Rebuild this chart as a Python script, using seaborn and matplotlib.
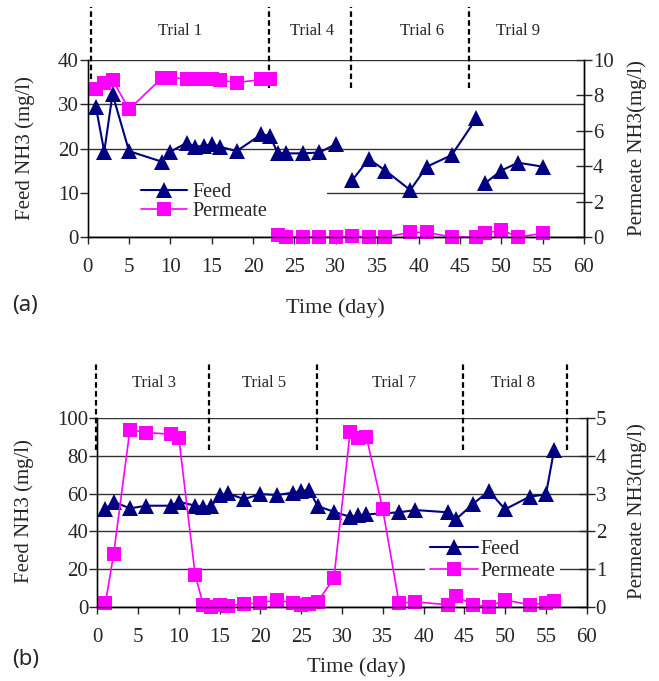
import numpy as np
import pandas as pd
import matplotlib
matplotlib.use("Agg")
import matplotlib.pyplot as plt
from matplotlib.lines import Line2D
from matplotlib.patches import Rectangle
import seaborn as sns

# ---- data ----
# panel (a)
feed_days_a = [1, 2, 3, 5, 9, 10, 12, 13, 14, 15, 16, 18, 21, 22, 23, 24, 26, 28, 30,
               32, 34, 36, 39, 41, 44, 47,
               48, 50, 52, 55]
feed_a = [29.3, 19.3, 32.3, 19.4, 17.0, 19.3, 21.3, 20.4, 20.6, 21.0, 20.4, 19.4, 23.2, 22.9,
          18.9, 18.9, 18.9, 19.1, 21.0,
          12.9, 17.6, 15.0, 10.6, 15.9, 18.5, 26.8,
          12.1, 15.0, 16.8, 15.9]
feed_seg_a = [0] * 19 + [1] * 7 + [2] * 4

perm_days_a = [1, 2, 3, 5, 9, 10, 12, 13, 14, 15, 16, 18, 21, 22,
               23, 24, 26, 28, 30, 32, 34, 36, 39, 41, 44, 47, 48, 50, 52, 55]
perm_a = [8.34, 8.68, 8.87, 7.21, 9.0, 9.0, 8.93, 8.93, 8.93, 8.9, 8.87, 8.72, 8.9, 8.9,
          0.1, 0.0, 0.0, 0.0, 0.0, 0.05, 0.0, 0.0, 0.26, 0.26, 0.0, 0.0, 0.2, 0.4, 0.0, 0.2]
perm_seg_a = [0] * 14 + [1] * 16

trial_lines_a = [0.4, 21.9, 31.8, 46.1]
trial_names_a = ["Trial 1", "Trial 4", "Trial 6", "Trial 9"]
trial_text_x_a = [11.2, 27.1, 40.4, 52.0]

# panel (b)
feed_days_b = [1, 2, 4, 6, 9, 10, 12, 13, 14, 15, 16, 18, 20, 22, 24, 25, 26, 27, 29, 31,
               32, 33, 37, 39, 43, 44, 46, 48, 50, 53, 55, 56]
feed_b = [51.7, 55.7, 52.2, 53.6, 53.6, 55.7, 53.6, 53.0, 53.4, 59.3, 60.1, 57.1, 59.8, 59.3,
          60.5, 61.4, 61.9, 53.4, 50.4, 47.7, 48.5, 49.0, 50.1, 51.3, 50.1, 46.5, 54.3, 61.4,
          51.7, 58.4, 59.6, 83.1]

perm_days_b = [1, 2, 4, 6, 9, 10, 12, 13, 14, 15, 16, 18, 20, 22, 24, 25, 26, 27, 29, 31,
               32, 33, 35, 37, 39, 43, 44, 46, 48, 50, 53, 55, 56]
perm_b = [0.1, 1.39, 4.7, 4.62, 4.58, 4.47, 0.84, 0.05, 0.0, 0.05, 0.03, 0.07, 0.1, 0.18,
          0.1, 0.05, 0.07, 0.13, 0.75, 4.64, 4.47, 4.5, 2.58, 0.09, 0.13, 0.05, 0.28, 0.05,
          0.0, 0.18, 0.05, 0.1, 0.15]

trial_lines_b = [-0.2, 13.7, 26.9, 44.8, 57.6]
trial_names_b = ["Trial 3", "Trial 5", "Trial 7", "Trial 8"]
trial_text_x_b = [6.9, 20.5, 36.4, 51.0]

FEED_C = "#000080"
PERM_C = "#FF00FF"

sns.set_style("ticks")
plt.rcParams["font.family"] = ["Liberation Serif", "DejaVu Serif"]

fig = plt.figure(figsize=(6.59, 6.81), dpi=100)
W, H = 659, 681


def add_axes_px(x0, y0, x1, y1):
    return fig.add_axes([x0 / W, 1 - y1 / H, (x1 - x0) / W, (y1 - y0) / H])


def style_panel(ax, ax2, ymax_l, ystep_l, ymax_r, ystep_r):
    ax.set_xlim(0, 60)
    ax.set_ylim(0, ymax_l)
    ax2.set_ylim(0, ymax_r)
    ax.set_xticks(np.arange(0, 61, 5))
    ax.set_yticks(np.arange(0, ymax_l + 0.1, ystep_l))
    ax2.set_yticks(np.arange(0, ymax_r + 0.01, ystep_r))
    ax.yaxis.grid(True, color="#333333", lw=1)
    ax.set_axisbelow(True)
    ax.tick_params(axis="x", direction="out", length=5, width=1, pad=10, labelsize=15)
    ax.tick_params(axis="y", direction="out", length=5.5, width=1, pad=1, labelsize=15)
    ax2.tick_params(axis="y", direction="inout", length=12, width=1, pad=0.5, labelsize=15)
    for a in (ax, ax2):
        for s in a.spines.values():
            s.set_color("black")
            s.set_linewidth(1)
    ax.spines["top"].set_visible(False)
    ax2.spines["top"].set_visible(False)
    ax.spines["left"].set_color("#555555")
    for ln in ax.lines + ax2.lines:
        ln.set_clip_on(False)


def trials(ax, xs, y0, y1, names, tx, ty):
    for x in xs:
        ax.plot([x, x], [y0, y1], color="black", lw=1.6, ls=(0, (2.5, 1.5)), clip_on=False,
                zorder=3)
    for name, x in zip(names, tx):
        ax.text(x, ty, name, ha="center", va="center", fontsize=12, clip_on=False)


# ---------------- panel (a) ----------------
ax_a = add_axes_px(87.7, 60, 584, 237)
ax_a2 = ax_a.twinx()

df_fa = pd.DataFrame({"day": feed_days_a, "feed": feed_a, "seg": feed_seg_a})
df_pa = pd.DataFrame({"day": perm_days_a, "perm": perm_a, "seg": perm_seg_a})

sns.lineplot(data=df_fa, x="day", y="feed", units="seg", estimator=None, ax=ax_a,
             color=FEED_C, linewidth=1.5, marker="^", markersize=11, markeredgewidth=0,
             legend=False)
sns.lineplot(data=df_pa, x="day", y="perm", units="seg", estimator=None, ax=ax_a2,
             color=PERM_C, linewidth=1.2, marker="s", markersize=9.5, markeredgewidth=0,
             legend=False)
style_panel(ax_a, ax_a2, 40, 10, 10, 2)
ax_a.add_patch(Rectangle((0.0, 0.10), 0.482, 0.19, transform=ax_a.transAxes,
                         facecolor="white", edgecolor="none", zorder=1))
trials(ax_a, trial_lines_a, 33.7, 52, trial_names_a, trial_text_x_a, 46.5)

ax_a.set_xlabel("Time (day)", fontsize=16)
ax_a.xaxis.label.set_va("center")
ax_a.xaxis.set_label_coords(0.499, -0.40)
ax_a.set_ylabel("Feed NH3 (mg/l)", fontsize=15)
ax_a.yaxis.set_label_coords(-0.126, 0.5)
ax_a.yaxis.label.set_va("center")
ax_a2.set_ylabel("Permeate NH3(mg/l)", fontsize=15)
ax_a2.yaxis.set_label_coords(1.107, 0.5)
ax_a2.yaxis.label.set_va("center")

handles = [Line2D([], [], color=FEED_C, lw=1.5, marker="^", ms=11, mew=0),
           Line2D([], [], color=PERM_C, lw=1.2, marker="s", ms=9.5, mew=0)]
ax_a2.legend(handles, ["Feed", "Permeate"], loc="upper left",
             bbox_to_anchor=(141 / W, 1 - 183 / H), bbox_transform=fig.transFigure,
             frameon=False, fontsize=14.5, handlelength=2.3, handletextpad=0.25,
             labelspacing=0.0, borderpad=0, borderaxespad=0)

# ---------------- panel (b) ----------------
ax_b = add_axes_px(97.3, 418.3, 586.7, 606.7)
ax_b2 = ax_b.twinx()

df_fb = pd.DataFrame({"day": feed_days_b, "feed": feed_b})
df_pb = pd.DataFrame({"day": perm_days_b, "perm": perm_b})

sns.lineplot(data=df_fb, x="day", y="feed", estimator=None, ax=ax_b,
             color=FEED_C, linewidth=1.5, marker="^", markersize=11, markeredgewidth=0,
             legend=False)
sns.lineplot(data=df_pb, x="day", y="perm", estimator=None, ax=ax_b2,
             color=PERM_C, linewidth=1.2, marker="s", markersize=9.5, markeredgewidth=0,
             legend=False)
style_panel(ax_b, ax_b2, 100, 20, 5, 1)
trials(ax_b, trial_lines_b, 83, 129, trial_names_b, trial_text_x_b, 118.5)

ax_b.set_xlabel("Time (day)", fontsize=16)
ax_b.xaxis.label.set_va("center")
ax_b.xaxis.set_label_coords(0.529, -0.32)
ax_b.set_ylabel("Feed NH3 (mg/l)", fontsize=15)
ax_b.yaxis.set_label_coords(-0.150, 0.51)
ax_b.yaxis.label.set_va("center")
ax_b2.set_ylabel("Permeate NH3(mg/l)", fontsize=15)
ax_b2.yaxis.set_label_coords(1.103, 0.51)
ax_b2.yaxis.label.set_va("center")

ax_b2.legend(handles, ["Feed", "Permeate"], loc="upper left",
             bbox_to_anchor=(425 / W, 1 - 535 / H), bbox_transform=fig.transFigure,
             frameon=True, facecolor="white", edgecolor="none", framealpha=1, fancybox=False,
             fontsize=14.5, handlelength=2.4, handletextpad=0.1, labelspacing=0.12,
             borderpad=0.25, borderaxespad=0)

# panel tags
fig.text(12 / W, 1 - 306 / H, "(a)", fontsize=16, ha="left", va="center",
         family=["Noto Sans", "DejaVu Sans"])
fig.text(12 / W, 1 - 660 / H, "(b)", fontsize=16, ha="left", va="center",
         family=["Noto Sans", "DejaVu Sans"])

fig.savefig("out.png", dpi=100)
